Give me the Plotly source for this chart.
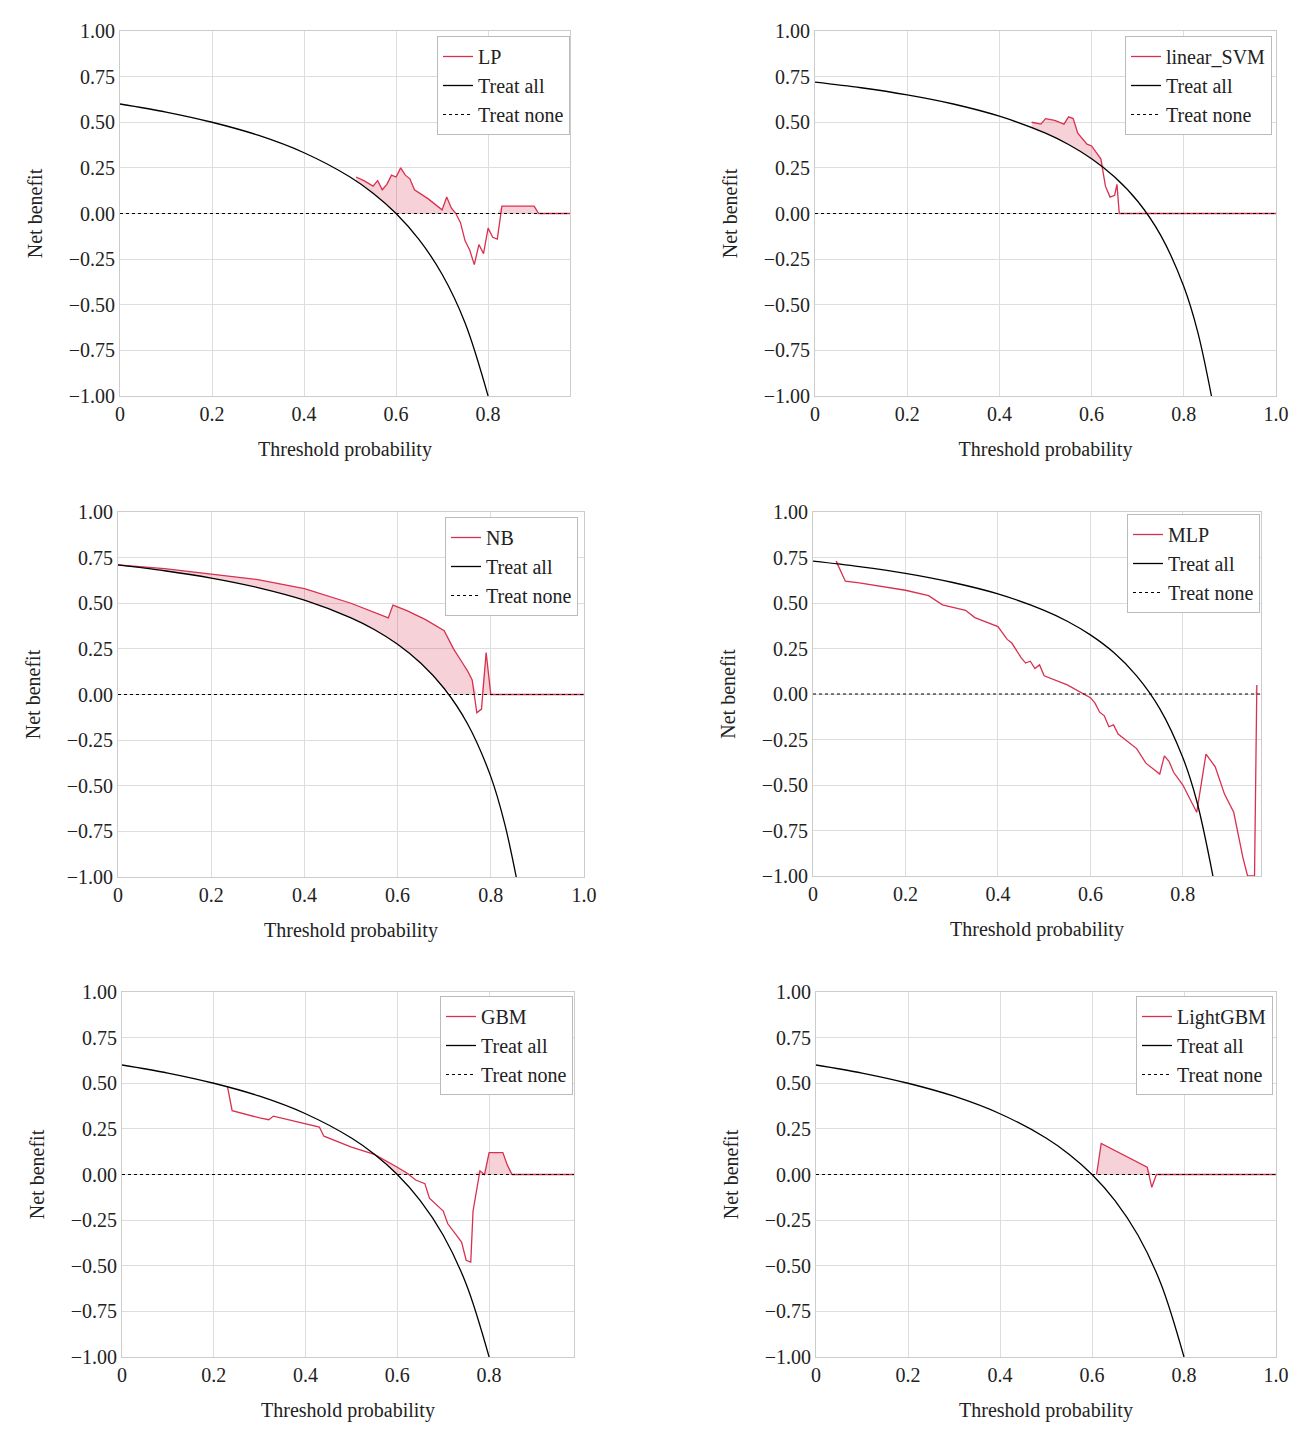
import numpy as np
import plotly.graph_objects as go

W, H = 1304, 1429
names = ["LP", "linear_SVM", "NB", "MLP", "GBM", "LightGBM"]

# treat-all curves
ta_x1 = [0, 0.1, 0.2, 0.3, 0.4, 0.5, 0.55, 0.6, 0.65, 0.7, 0.75, 0.8]
ta_y1 = [0.60, 0.556, 0.50, 0.429, 0.333, 0.20, 0.111, 0.0, -0.143, -0.333, -0.60, -1.0]
ta_x2 = [0, 0.1, 0.2, 0.3, 0.4, 0.5, 0.55, 0.6, 0.65, 0.7, 0.75, 0.8, 0.83, 0.86]
ta_y2 = [0.72, 0.689, 0.65, 0.60, 0.533, 0.44, 0.378, 0.30, 0.20, 0.067, -0.12, -0.40, -0.647, -1.0]
ta_x3 = [0, 0.1, 0.2, 0.3, 0.4, 0.5, 0.55, 0.6, 0.65, 0.7, 0.75, 0.8, 0.83, 0.86]
ta_y3 = [0.71, 0.678, 0.638, 0.586, 0.517, 0.42, 0.356, 0.275, 0.171, 0.033, -0.16, -0.45, -0.71, -1.07]
ta_x4 = [0, 0.1, 0.2, 0.3, 0.4, 0.5, 0.55, 0.6, 0.65, 0.7, 0.75, 0.8, 0.83, 0.865]
ta_y4 = [0.73, 0.70, 0.663, 0.614, 0.55, 0.46, 0.40, 0.325, 0.229, 0.10, -0.08, -0.35, -0.588, -1.0]

# model curves
m1_x = [0.513, 0.53, 0.55, 0.56, 0.57, 0.58, 0.59, 0.60, 0.61, 0.62, 0.63, 0.64, 0.67, 0.70, 0.71, 0.72, 0.73, 0.74, 0.75, 0.76, 0.77, 0.78, 0.79, 0.80, 0.81, 0.82, 0.83, 0.90, 0.91, 0.978]
m1_y = [0.20, 0.18, 0.15, 0.18, 0.13, 0.16, 0.21, 0.20, 0.25, 0.21, 0.19, 0.13, 0.08, 0.02, 0.09, 0.03, 0.0, -0.05, -0.15, -0.20, -0.28, -0.17, -0.22, -0.08, -0.13, -0.14, 0.04, 0.04, 0.0, 0.0]
m2_x = [0.47, 0.49, 0.50, 0.52, 0.54, 0.55, 0.56, 0.57, 0.59, 0.60, 0.62, 0.63, 0.64, 0.65, 0.655, 0.66, 1.0]
m2_y = [0.50, 0.49, 0.52, 0.51, 0.49, 0.53, 0.52, 0.44, 0.38, 0.37, 0.30, 0.15, 0.09, 0.10, 0.16, 0.0, 0.0]
m3_x = [0, 0.1, 0.2, 0.23, 0.3, 0.4, 0.5, 0.58, 0.59, 0.62, 0.66, 0.70, 0.72, 0.74, 0.75, 0.76, 0.77, 0.78, 0.79, 0.80, 1.0]
m3_y = [0.71, 0.69, 0.66, 0.65, 0.63, 0.58, 0.50, 0.42, 0.49, 0.46, 0.41, 0.35, 0.25, 0.17, 0.13, 0.08, -0.10, -0.08, 0.23, 0.0, 0.0]
m4_x = [0.05, 0.07, 0.1, 0.2, 0.25, 0.28, 0.33, 0.35, 0.40, 0.42, 0.43, 0.45, 0.46, 0.47, 0.48, 0.49, 0.50, 0.55, 0.60, 0.61, 0.62, 0.63, 0.64, 0.65, 0.66, 0.70, 0.72, 0.75, 0.76, 0.77, 0.78, 0.80, 0.82, 0.83, 0.85, 0.87, 0.89, 0.91, 0.93, 0.94, 0.955, 0.96]
m4_y = [0.73, 0.62, 0.61, 0.57, 0.54, 0.49, 0.46, 0.42, 0.37, 0.30, 0.28, 0.20, 0.17, 0.18, 0.14, 0.16, 0.10, 0.05, -0.02, -0.05, -0.10, -0.12, -0.18, -0.17, -0.22, -0.30, -0.38, -0.44, -0.34, -0.37, -0.43, -0.50, -0.60, -0.65, -0.33, -0.40, -0.55, -0.65, -0.90, -1.0, -1.0, 0.05]
m5_x = [0.23, 0.24, 0.3, 0.32, 0.33, 0.40, 0.43, 0.44, 0.50, 0.55, 0.58, 0.60, 0.62, 0.64, 0.66, 0.67, 0.70, 0.71, 0.74, 0.75, 0.76, 0.765, 0.78, 0.79, 0.80, 0.83, 0.84, 0.85, 0.985]
m5_y = [0.48, 0.35, 0.31, 0.30, 0.32, 0.28, 0.26, 0.21, 0.15, 0.11, 0.07, 0.04, 0.01, -0.03, -0.05, -0.13, -0.20, -0.27, -0.37, -0.47, -0.48, -0.20, 0.02, 0.0, 0.12, 0.12, 0.05, 0.0, 0.0]
m6_x = [0.61, 0.62, 0.72, 0.73, 0.74, 1.0]
m6_y = [0.0, 0.17, 0.04, -0.07, 0.0, 0.0]

ta = [(ta_x1, ta_y1), (ta_x2, ta_y2), (ta_x3, ta_y3), (ta_x4, ta_y4), (ta_x1, ta_y1), (ta_x1, ta_y1)]
models = [(m1_x, m1_y), (m2_x, m2_y), (m3_x, m3_y), (m4_x, m4_y), (m5_x, m5_y), (m6_x, m6_y)]

# layout boxes (pixels)
xpix = [(112, 562), (807, 1268), (110, 576), (805, 1253), (114, 566), (808, 1268)]
ypix = [(23, 388), (23, 388), (504, 869), (504, 868), (984, 1349), (984, 1349)]
xmax = [0.978, 1.0, 1.0, 0.969, 0.985, 1.0]
legpix = [(562, 28), (1264, 28), (570, 509), (1252, 506), (565, 988), (1265, 988)]

RED = "#d8304f"
FONT = "Liberation Serif"
fig = go.Figure()
layout = dict(width=W, height=H, margin=dict(l=0, r=0, t=0, b=0, autoexpand=False),
              paper_bgcolor="white", plot_bgcolor="white", showlegend=True,
              font=dict(family=FONT, size=20, color="#222"))
for i in range(6):
    s = "" if i == 0 else str(i + 1)
    xa, ya = "x" + s, "y" + s
    lg = "legend" + s
    tx, ty = ta[i]
    mx, my = models[i]
    mx_a, my_a = np.array(mx), np.array(my)
    base = np.maximum(np.interp(mx_a, tx, ty), 0)
    top = np.maximum(my_a, base)
    fig.add_trace(go.Scatter(x=mx, y=base, mode="lines", line=dict(width=0), hoverinfo="skip",
                             showlegend=False, xaxis=xa, yaxis=ya))
    fig.add_trace(go.Scatter(x=mx, y=top, mode="lines", line=dict(width=0), fill="tonexty",
                             fillcolor="rgba(216,48,79,0.22)", hoverinfo="skip",
                             showlegend=False, xaxis=xa, yaxis=ya))
    fig.add_trace(go.Scatter(x=mx, y=my, mode="lines", line=dict(color=RED, width=1.3),
                             name=names[i], legend=lg, xaxis=xa, yaxis=ya))
    fig.add_trace(go.Scatter(x=tx, y=ty, mode="lines", line=dict(color="black", width=1.3, shape="spline"),
                             name="Treat all", legend=lg, xaxis=xa, yaxis=ya))
    fig.add_trace(go.Scatter(x=[0, xmax[i]], y=[0, 0], mode="lines", line=dict(color="black", width=1, dash="dot"),
                             name="Treat none", legend=lg, xaxis=xa, yaxis=ya))
    x0, x1 = xpix[i]
    y0, y1 = ypix[i]
    tv = [0, 0.2, 0.4, 0.6, 0.8] + ([1.0] if xmax[i] >= 1.0 else [])
    tt = ["0", "0.2", "0.4", "0.6", "0.8"] + (["1.0"] if xmax[i] >= 1.0 else [])
    common = dict(showgrid=True, gridcolor="#dddddd", gridwidth=1, zeroline=False,
                  showline=True, linecolor="#cccccc", mirror=True, ticks="", automargin=False,
                  tickfont=dict(size=20, family=FONT))
    layout["xaxis" + s] = dict(domain=[x0 / W, x1 / W], range=[0, xmax[i]], anchor=ya,
                               tickvals=tv, ticktext=tt,
                               title=dict(text="Threshold probability", font=dict(size=20), standoff=17),
                               **common)
    layout["yaxis" + s] = dict(domain=[1 - y1 / H, 1 - y0 / H], range=[-1, 1], anchor=xa,
                               tickvals=[-1, -0.75, -0.5, -0.25, 0, 0.25, 0.5, 0.75, 1],
                               ticktext=["\u22121.00", "\u22120.75", "\u22120.50", "\u22120.25", "0.00",
                                         "0.25", "0.50", "0.75", "1.00"],
                               title=dict(text="Net benefit", font=dict(size=20), standoff=20),
                               **common)
    lx, ly = legpix[i]
    layout[lg] = dict(x=lx / W, y=1 - ly / H, xanchor="right", yanchor="top",
                      bgcolor="white", bordercolor="#bbbbbb", borderwidth=1, traceorder="normal",
                      font=dict(size=20, family=FONT), itemwidth=30, tracegroupgap=0)
fig.update_layout(**layout)
fig.write_html("out.html")
